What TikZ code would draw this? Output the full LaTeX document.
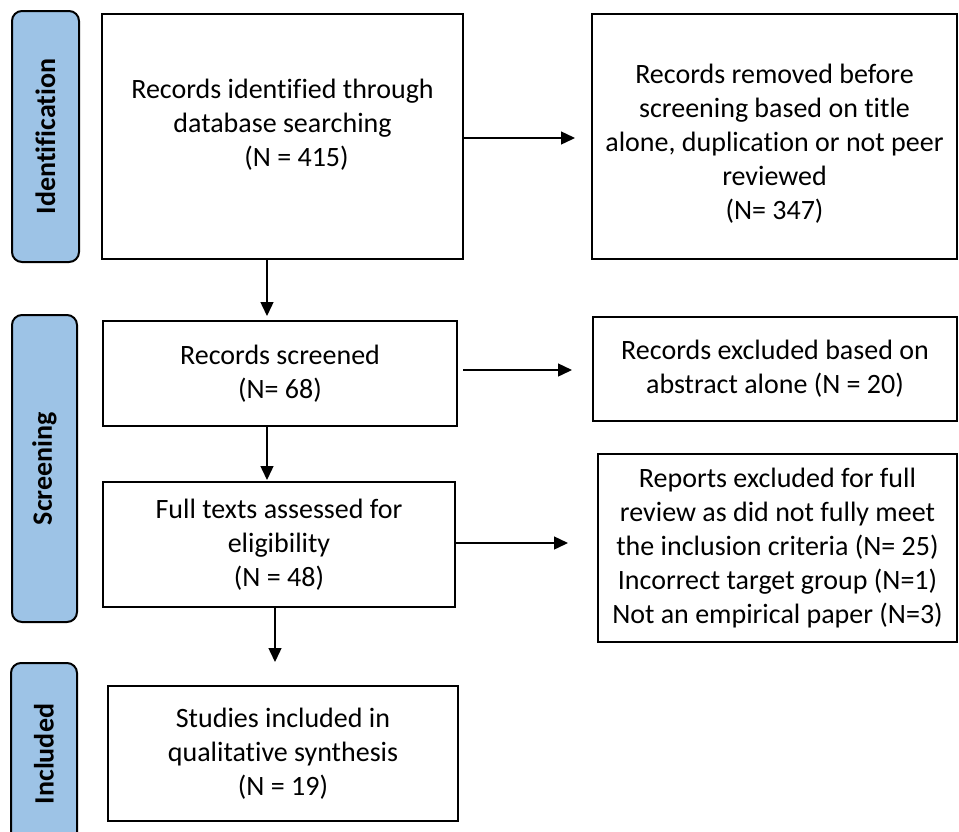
\documentclass[tikz,border=0pt]{standalone}
\usepackage{fontspec}
\usepackage{graphicx}
\setmainfont{Carlito}[Ligatures={NoCommon}]
\usetikzlibrary{arrows.meta, positioning, calc}
\definecolor{phaseblue}{HTML}{9DC3E6}

\begin{document}
\begin{tikzpicture}[x=1pt, y=-1pt,
    every node/.style={font=\fontsize{28}{34}\selectfont},
    box/.style={draw, line width=2pt, rectangle, align=center, inner sep=0pt},
    phase/.style={draw, line width=2pt, rounded corners=10pt, fill=phaseblue, inner sep=0pt},
    flow/.style={-{Triangle[length=14pt, width=13pt]}, line width=1.4pt}]
    \fill[white] (0,0) rectangle (959,831);
    \useasboundingbox (0,0) rectangle (959,831);

    % Phases
    \node[phase, minimum width=67pt, minimum height=251pt] (sid) at (45.5,136.5) {\rotatebox{90}{\bfseries Identification}};
    \node[phase, minimum width=65pt, minimum height=307pt] (sscr) at (44.5,468.5) {\rotatebox{90}{\bfseries Screening}};
    \node[phase, minimum width=66pt, minimum height=182pt] (sinc) at (44,754) {\rotatebox{90}{\bfseries Included}};

    % Identification
    \node[box, minimum width=361pt, minimum height=245pt,
          label={[name=identtxt, align=center, yshift=12pt]center:{Records identified through\\ database searching\\ \hspace*{28pt}(N = 415)}}] (ident) at (282.5,136.5) {};
    \node[box, minimum width=365pt, minimum height=245pt,
          label={[name=remtxt, align=center, yshift=-7pt]center:{Records removed before\\ screening based on title\\ alone, duplication or not peer\\ reviewed\\ (N= 347)}}] (rem) at (774.5,136.5) {};

    % Screening
    \node[box, minimum width=354pt, minimum height=105pt] (scr) at (280,373.5) {Records screened\\ (N= 68)};
    \node[box, minimum width=364pt, minimum height=104pt] (exab) at (775,369) {Records excluded based on\\ abstract alone (N = 20)};
    \node[box, minimum width=352pt, minimum height=125pt] (full) at (279,544.5) {Full texts assessed for\\ eligibility\\ (N = 48)};
    \node[box, minimum width=359pt, minimum height=188pt] (rep) at (777.5,548) {Reports excluded for full\\ review as did not fully meet\\ the inclusion criteria (N= 25)\\ Incorrect target group (N=1)\\ Not an empirical paper (N=3)};

    % Included
    \node[box, minimum width=350pt, minimum height=135pt] (incl) at (283,753.5) {Studies included in\\ qualitative synthesis\\ (N = 19)};

    % Arrows
    \coordinate (a1) at (575,138);
    \coordinate (a2) at (572,370);
    \coordinate (a3) at (568,543);
    \coordinate (d1) at (267,316);
    \coordinate (d2) at (267,480);
    \coordinate (d3) at (275,662);
    \draw[flow] (ident.east |- a1) -- (a1);
    \draw[flow, shorten <=5pt] (scr.east |- a2) -- (a2);
    \draw[flow] (full.east |- a3) -- (a3);
    \draw[flow] (ident.south -| d1) -- (d1);
    \draw[flow] (scr.south -| d2) -- (d2);
    \draw[flow] (full.south -| d3) -- (d3);
\end{tikzpicture}
\end{document}
